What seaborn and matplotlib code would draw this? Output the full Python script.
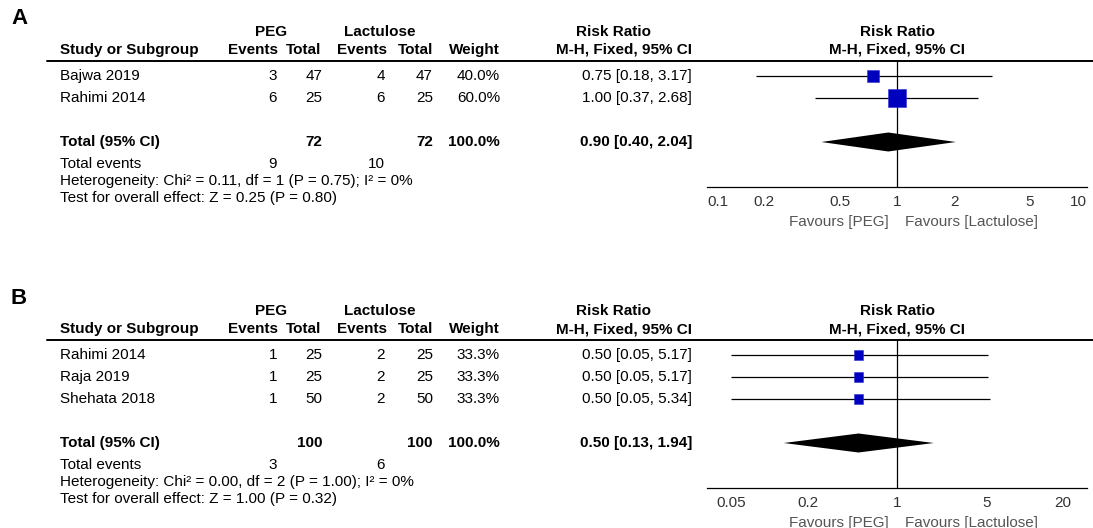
import matplotlib
matplotlib.use("Agg")
import matplotlib.pyplot as plt
import matplotlib.ticker as mticker
import seaborn as sns
import pandas as pd

# ---- panel A data ----
a_study = ["Bajwa 2019", "Rahimi 2014"]
a_peg_events = [3, 6]
a_peg_total = [47, 25]
a_lac_events = [4, 6]
a_lac_total = [47, 25]
a_weight = [40.0, 60.0]
a_rr = [0.75, 1.00]
a_lo = [0.18, 0.37]
a_hi = [3.17, 2.68]
a_pooled = [0.90, 0.40, 2.04]
a_sum_total = [72, 72]
a_sum_events = [9, 10]
a_sum_weight = 100.0
a_het = "Heterogeneity: Chi² = 0.11, df = 1 (P = 0.75); I² = 0%"
a_test = "Test for overall effect: Z = 0.25 (P = 0.80)"
a_ticks = [0.1, 0.2, 0.5, 1, 2, 5, 10]
a_tick_labels = ["0.1", "0.2", "0.5", "1", "2", "5", "10"]
a_xlim = [0.1, 10]

# ---- panel B data ----
b_study = ["Rahimi 2014", "Raja 2019", "Shehata 2018"]
b_peg_events = [1, 1, 1]
b_peg_total = [25, 25, 50]
b_lac_events = [2, 2, 2]
b_lac_total = [25, 25, 50]
b_weight = [33.3, 33.3, 33.3]
b_rr = [0.50, 0.50, 0.50]
b_lo = [0.05, 0.05, 0.05]
b_hi = [5.17, 5.17, 5.34]
b_pooled = [0.50, 0.13, 1.94]
b_sum_total = [100, 100]
b_sum_events = [3, 6]
b_sum_weight = 100.0
b_het = "Heterogeneity: Chi² = 0.00, df = 2 (P = 1.00); I² = 0%"
b_test = "Test for overall effect: Z = 1.00 (P = 0.32)"
b_ticks = [0.05, 0.2, 1, 5, 20]
b_tick_labels = ["0.05", "0.2", "1", "5", "20"]
b_xlim = [0.0326, 30.7]

W, H = 1093, 528
FS = 11

sns.set_style("white")
plt.rcParams['font.family'] = ['Liberation Sans', 'DejaVu Sans']
plt.rcParams['text.color'] = 'black'

fig = plt.figure(figsize=(W / 100, H / 100), dpi=100)
ov = fig.add_axes([0, 0, 1, 1])
ov.set_xlim(0, W)
ov.set_ylim(H, 0)
ov.axis("off")


def txt(x, y, s, ha="left", bold=False, **kw):
    ov.text(x, y, s, ha=ha, va="center", fontsize=FS,
            fontweight="bold" if bold else "normal", **kw)


def panel(letter, y0, study, pe, pt, le, lt, w, rr, lo, hi, pooled,
          sum_total, sum_events, sum_weight, het, test, ticks, tick_labels, xlim):
    step = 22
    row0 = y0 + 76
    n = len(study)
    total_y = row0 + step * (n + 1)
    axis_y = total_y + 45
    line_y = y0 + 61

    ov.text(11, y0 + 19, letter, fontsize=16, fontweight="bold", va="center")
    # headers
    txt(271, y0 + 32, "PEG", "center", True)
    txt(380, y0 + 32, "Lactulose", "center", True)
    txt(613, y0 + 32, "Risk Ratio", "center", True)
    txt(897, y0 + 32, "Risk Ratio", "center", True)
    hy = y0 + 50
    txt(60, hy, "Study or Subgroup", bold=True)
    txt(278, hy, "Events", "right", True)
    txt(321, hy, "Total", "right", True)
    txt(387, hy, "Events", "right", True)
    txt(433, hy, "Total", "right", True)
    txt(500, hy, "Weight", "right", True)
    txt(692, hy, "M-H, Fixed, 95% CI", "right", True)
    txt(897, hy, "M-H, Fixed, 95% CI", "center", True)
    ov.plot([47, W], [line_y, line_y], color="black", lw=1.4)

    for i in range(n):
        y = row0 + step * i
        txt(60, y, study[i])
        txt(277, y, str(pe[i]), "right")
        txt(322, y, str(pt[i]), "right")
        txt(385, y, str(le[i]), "right")
        txt(433, y, str(lt[i]), "right")
        txt(500, y, f"{w[i]:.1f}%", "right")
        txt(692, y, f"{rr[i]:.2f} [{lo[i]:.2f}, {hi[i]:.2f}]", "right")

    txt(60, total_y, "Total (95% CI)", bold=True)
    txt(322, total_y, str(sum_total[0]), "right", True)
    txt(433, total_y, str(sum_total[1]), "right", True)
    txt(500, total_y, f"{sum_weight:.1f}%", "right", True)
    txt(692, total_y, f"{pooled[0]:.2f} [{pooled[1]:.2f}, {pooled[2]:.2f}]", "right", True)
    fy = total_y + 22
    txt(60, fy, "Total events")
    txt(277, fy, str(sum_events[0]), "right")
    txt(385, fy, str(sum_events[1]), "right")
    txt(60, fy + 17, het)
    txt(60, fy + 34, test)

    # forest plot
    ax = fig.add_axes([707 / W, 1 - axis_y / H, 380 / W, (axis_y - line_y) / H])
    ax.patch.set_alpha(0)
    ax.set_xscale("log")
    ax.set_xlim(xlim)
    ax.set_ylim((axis_y - row0) / step, (line_y - row0) / step)
    df = pd.DataFrame({"rr": rr, "lo": lo, "hi": hi, "w": w, "row": range(n)})
    ax.hlines(df["row"], df["lo"], df["hi"], color="black", lw=0.9, zorder=2)
    side = 0.28 * df["w"] + 0.5
    sns.scatterplot(data=df, x="rr", y="row", marker="s", s=(side * 0.72) ** 2,
                    color="#0000BF", edgecolor="#3030D8", linewidth=0.4,
                    ax=ax, legend=False, zorder=3)
    est, plo, phi = pooled
    yd = n + 1
    h = 9.5 / step
    ax.fill([plo, est, phi, est], [yd, yd - h, yd, yd + h], color="black", lw=0, zorder=3)
    ax.axvline(1, color="black", lw=0.9, zorder=1)

    for s in ["top", "left", "right"]:
        ax.spines[s].set_visible(False)
    ax.spines["bottom"].set_linewidth(0.9)
    ax.spines["bottom"].set_color("black")
    ax.set_yticks([])
    ax.set_xticks(ticks, tick_labels)
    ax.xaxis.set_minor_locator(mticker.NullLocator())
    ax.tick_params(axis="x", direction="inout", length=9, width=0.9, color="black",
                   labelsize=FS, labelcolor="#333333", pad=1)
    # labels at the very ends of the axis sit inside it
    for t, lab in zip(ticks, ax.get_xticklabels()):
        if t == xlim[0]:
            lab.set_horizontalalignment("left")
        elif t == xlim[1]:
            lab.set_horizontalalignment("right")
    ax.set_xlabel("")
    ax.set_ylabel("")

    ov.text(889, axis_y + 35, "Favours [PEG]", ha="right", va="center",
            fontsize=FS, color="#555555")
    ov.text(905, axis_y + 35, "Favours [Lactulose]", ha="left", va="center",
            fontsize=FS, color="#555555")


panel("A", 0, a_study, a_peg_events, a_peg_total, a_lac_events, a_lac_total,
      a_weight, a_rr, a_lo, a_hi, a_pooled, a_sum_total, a_sum_events, a_sum_weight,
      a_het, a_test, a_ticks, a_tick_labels, a_xlim)
panel("B", 279, b_study, b_peg_events, b_peg_total, b_lac_events, b_lac_total,
      b_weight, b_rr, b_lo, b_hi, b_pooled, b_sum_total, b_sum_events, b_sum_weight,
      b_het, b_test, b_ticks, b_tick_labels, b_xlim)

fig.savefig("out.png", dpi=100)
